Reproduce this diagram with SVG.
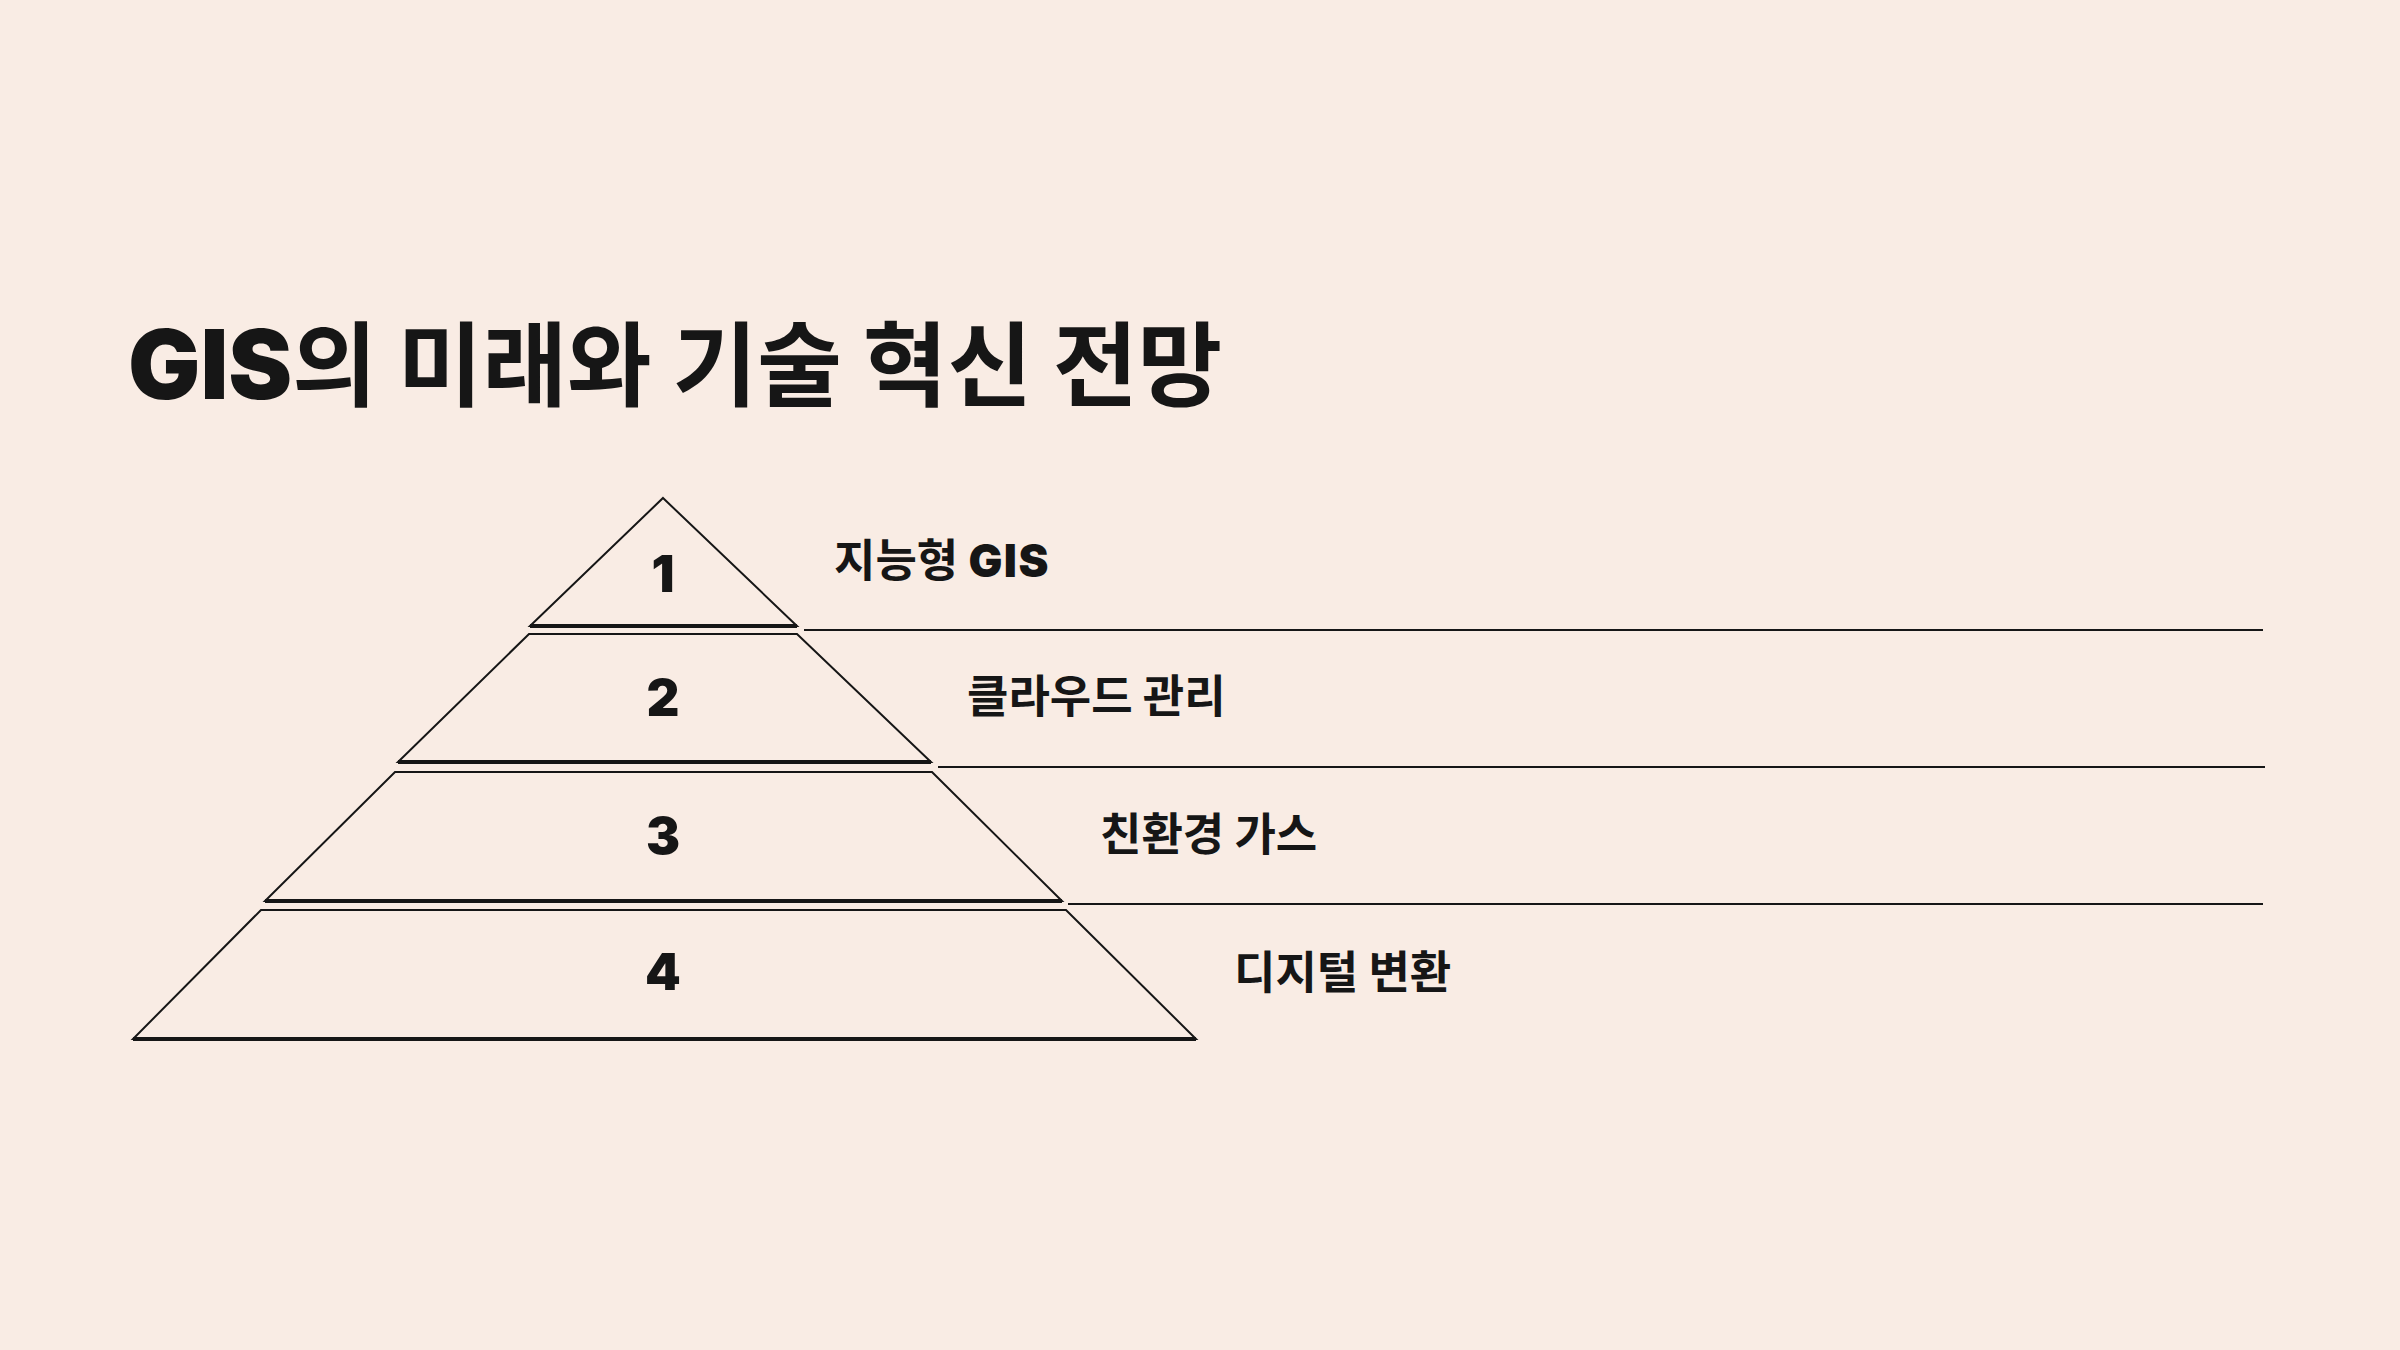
<svg xmlns="http://www.w3.org/2000/svg" width="2400" height="1350" viewBox="0 0 2400 1350">
  <style>
    .bg { fill: #F9ECE4; }
    .tier { fill: none; stroke: #161616; stroke-width: 2; stroke-linejoin: miter; }
    .base { stroke: #161616; stroke-width: 4; stroke-linecap: butt; }
    .sep { stroke: #161616; stroke-width: 2; }
    .title { font-family: "Noto Sans CJK KR", "Noto Sans", sans-serif; font-weight: 700; font-size: 92px; fill: #161616; }
    .latin { font-family: Inter, "Liberation Sans", sans-serif; font-weight: 900; }
    .num { font-family: Inter, "Liberation Sans", sans-serif; font-weight: 900; font-size: 51px; fill: #161616; text-anchor: middle; }
    .label { font-family: "Noto Sans CJK KR", "Noto Sans", sans-serif; font-weight: 700; font-size: 45px; fill: #161616; }
  </style>
  <rect class="bg" x="0" y="0" width="2400" height="1350"/>

  <text id="title" class="title" x="128" y="399"><tspan class="latin" font-size="96">GIS</tspan>의 미래와 기술 혁신 전망</text>

  <g id="connectors">
    <line class="sep" x1="804" y1="630" x2="2263" y2="630"/>
    <line class="sep" x1="938" y1="767" x2="2265" y2="767"/>
    <line class="sep" x1="1068" y1="904" x2="2263" y2="904"/>
  </g>

  <g id="tier1">
    <polygon class="tier" points="663,498 797,626 530,626"/>
    <line class="base" x1="530" y1="626" x2="797" y2="626"/>
    <text class="num" x="663" y="592">1</text>
    <text class="label" x="834" y="577">지능형 <tspan class="latin" font-weight="800" letter-spacing="1.5">GIS</tspan></text>
  </g>

  <g id="tier2">
    <polygon class="tier" points="529,634 797,634 931,762 398,762"/>
    <line class="base" x1="398" y1="762" x2="931" y2="762"/>
    <text class="num" x="663" y="716">2</text>
    <text class="label" x="967" y="713">클라우드 관리</text>
  </g>

  <g id="tier3">
    <polygon class="tier" points="395,772 932,772 1062,901 265,901"/>
    <line class="base" x1="265" y1="901" x2="1062" y2="901"/>
    <text class="num" x="663" y="854">3</text>
    <text class="label" x="1100" y="851">친환경 가스</text>
  </g>

  <g id="tier4">
    <polygon class="tier" points="261,910 1066,910 1196,1039 133,1039"/>
    <line class="base" x1="133" y1="1039" x2="1196" y2="1039"/>
    <text class="num" x="663" y="990">4</text>
    <text class="label" x="1234" y="989">디지털 변환</text>
  </g>
</svg>
